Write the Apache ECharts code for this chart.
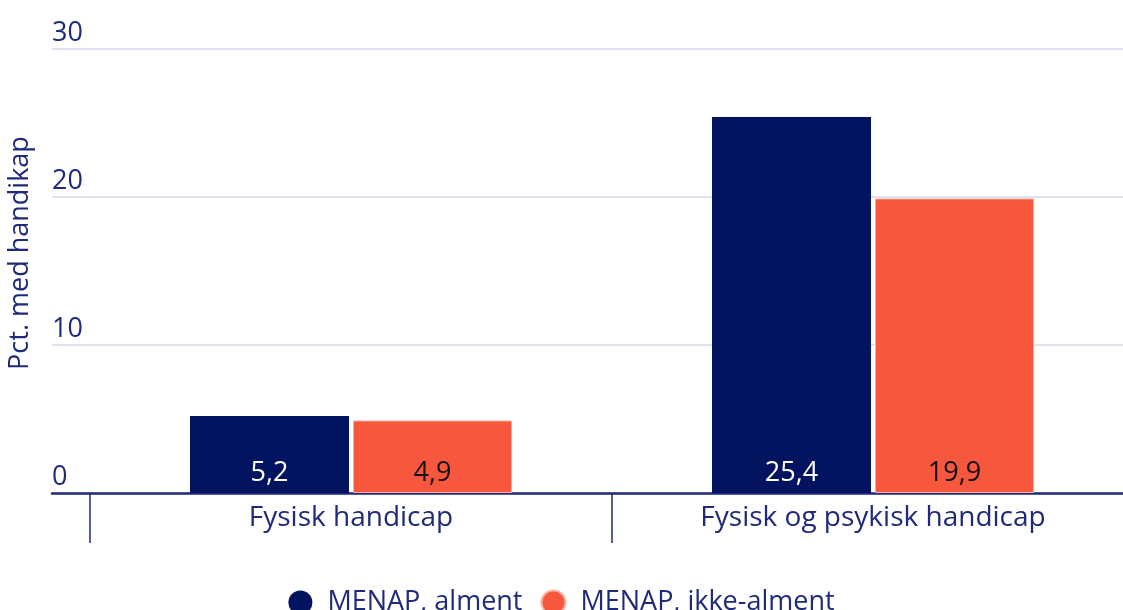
<!DOCTYPE html>
<html>
<head>
<meta charset="utf-8">
<script src="https://cdn.jsdelivr.net/npm/echarts@6/dist/echarts.min.js"></script>
<style>
  html, body { margin: 0; padding: 0; background: #fff; }
  .handicap-chart { width: 1123px; height: 610px; }
</style>
</head>
<body>
<div class="handicap-chart"></div>
<script>
const categories = ['Fysisk handicap', 'Fysisk og psykisk handicap'];
const alment = [5.2, 25.4];
const ikkeAlment = [4.9, 19.9];
const seriesNames = ['MENAP, alment', 'MENAP, ikke-alment'];

document.addEventListener('DOMContentLoaded', () => {
    const chart = echarts.init(document.querySelector('.handicap-chart'));
    const navy = '#1f2a78';
    const font = 'Open Sans';
    const fmt = (p) => String(p.value).replace('.', ',');

    const option = {
        textStyle: { fontFamily: font },
        grid: [
            { left: 90, right: -11, top: 49, bottom: 117, outerBoundsMode: 'none', containLabel: false },
            { left: 52, right: 0, top: 49, bottom: 117, outerBoundsMode: 'none', containLabel: false }
        ],
        xAxis: [
            {
                type: 'category', gridIndex: 0, data: categories,
                axisLine: { show: false },
                axisTick: { show: true, length: 50, lineStyle: { color: navy, width: 1.5 } },
                axisLabel: { color: navy, fontSize: 28, margin: 11 }
            },
            {
                type: 'category', gridIndex: 1, data: categories,
                axisLine: { lineStyle: { color: navy, width: 2.5 } },
                axisTick: { show: false }, axisLabel: { show: false }
            }
        ],
        yAxis: [
            {
                type: 'value', gridIndex: 0, min: 0, max: 30, interval: 10,
                axisLabel: { show: false }, splitLine: { show: false }
            },
            {
                type: 'value', gridIndex: 1, min: 0, max: 30, interval: 10,
                name: 'Pct. med handikap', nameLocation: 'middle', nameGap: 18,
                nameTextStyle: { color: navy, fontSize: 27, padding: [0, 0, 0, 36] },
                axisLine: { show: false }, axisTick: { show: false },
                axisLabel: {
                    inside: true, margin: 0, color: navy, fontSize: 27,
                    verticalAlign: 'bottom', padding: [0, 0, 2, 0]
                },
                splitLine: { lineStyle: { color: '#d6d9ea', width: 1.5 } }
            }
        ],
        legend: {
            data: seriesNames, icon: 'circle', itemWidth: 24, itemHeight: 24,
            itemGap: 18, top: 584, left: 'center',
            textStyle: { color: navy, fontSize: 27, padding: [0, 0, 0, 10] }
        },
        series: [
            {
                name: seriesNames[0], type: 'bar', data: alment,
                barWidth: 159, barGap: '2.5%',
                itemStyle: { color: '#021360' },
                label: { show: true, position: 'insideBottom', distance: 6, color: '#fff', fontSize: 27, formatter: fmt }
            },
            {
                name: seriesNames[1], type: 'bar', data: ikkeAlment,
                barWidth: 159,
                itemStyle: { color: '#f7573c', borderColor: '#fbb0a2', borderWidth: 1 },
                label: { show: true, position: 'insideBottom', distance: 6, color: '#111', fontSize: 27, formatter: fmt }
            }
        ]
    };

    chart.setOption(option);
    window.addEventListener('resize', () => chart.resize());
});
</script>
</body>
</html>
